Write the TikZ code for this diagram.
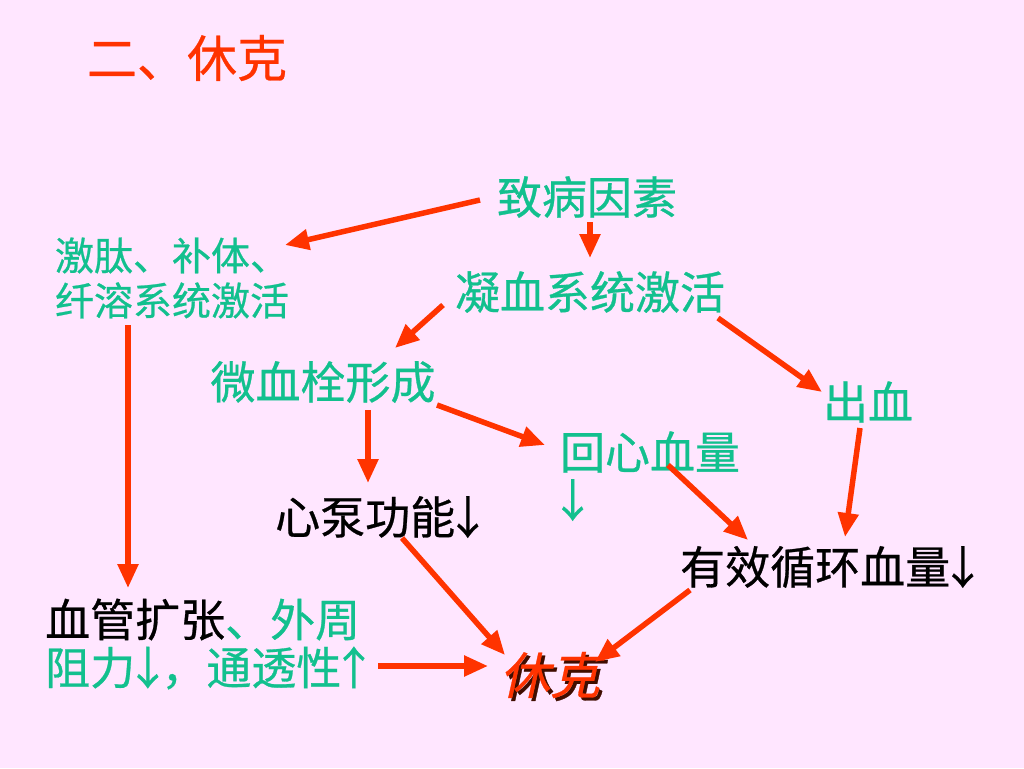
\documentclass[tikz,border=0pt]{standalone}
\usepackage{fontspec}
\usetikzlibrary{arrows.meta}
\newfontfamily\cjk[FakeBold=0.6]{Noto Sans CJK SC}
\newfontfamily\cjkit[FakeSlant=0.22,FakeBold=0.6]{Noto Sans CJK SC}
\newcommand{\dn}{\kern-0.22em↓\kern-0.2em}
\newcommand{\upa}{\kern-0.22em↑\kern-0.2em}
\definecolor{bgpink}{RGB}{255,230,255}
\definecolor{tgreen}{RGB}{18,192,142}
\definecolor{ared}{RGB}{255,51,0}
\tikzset{
  txt/.style={inner sep=0pt, text=tgreen, font=\cjk\fontsize{45}{48}\selectfont},
  blk/.style={txt, text=black},
  arr/.style={draw=ared, line width=5.5pt, -{Triangle[length=24pt,width=20pt]}},
}
\begin{document}
\begin{tikzpicture}[x=1pt,y=-1pt]
\fill[bgpink] (0,0) rectangle (1024,768);
\useasboundingbox (0,0) rectangle (1024,768);
% nodes
\node[txt, text=ared, font=\cjk\fontsize{50}{55}\selectfont] (title) at (187,58) {二、休克};
\node[txt] (zb) at (587,197) {致病因素};
\node[txt, align=left, font=\cjk\fontsize{39}{45}\selectfont] (jt) at (172,278) {激肽、补体、\\纤溶系统激活};
\node[txt] (nx) at (590,292) {凝血系统激活};
\node[txt] (wx) at (323,382) {微血栓形成};
\node[txt] (cx) at (868,402) {出血};
\node[txt] (hx) at (650,452) {回心血量};
\node[txt, anchor=west] (hxa) at (550,500) {↓};
\node[blk, anchor=west] (xb) at (275,517) {心泵功能\dn};
\node[blk, anchor=west] (yx) at (680,567) {有效循环血量\dn};
\node[txt, align=left, anchor=west] (xg) at (45,644) {\textcolor{black}{血管扩张}、外周\\阻力\dn，通透性\upa};
\node[txt, text=black!75!ared, font=\cjkit\fontsize{50}{55}\selectfont] (xks) at (553,678) {休克};
\node[txt, text=ared, font=\cjkit\fontsize{50}{55}\selectfont] (xk) at (550,675) {休克};
% arrows
\draw[arr] ([shift={(-107,3)}]zb.center) -- ([shift={(113,-33)}]jt.center);
\draw[arr] ([shift={(3,25)}]zb.center) -- ([shift={(0,-34)}]nx.center);
\draw[arr] ([shift={(-147,13)}]nx.center) -- ([shift={(72,-34)}]wx.center);
\draw[arr] ([shift={(128,26)}]nx.center) -- ([shift={(-46,-10)}]cx.center);
\draw[arr] ([shift={(45,28)}]wx.center) -- ([shift={(93,-34)}]xb.west);
\draw[arr] ([shift={(114,23)}]wx.center) -- ([shift={(-105,-7)}]hx.center);
\draw[arr] ([shift={(-44,47)}]jt.center) -- ([shift={(83,-56)}]xg.west);
\draw[arr] ([shift={(-8,26)}]cx.center) -- ([shift={(165,-30)}]yx.west);
\draw[arr] ([shift={(18,13)}]hx.center) -- ([shift={(68,-27)}]yx.west);
\draw[arr] ([shift={(127,21)}]xb.west) -- ([shift={(-45,-20)}]xk.center);
\draw[arr] ([shift={(10,23)}]yx.west) -- ([shift={(45,-13)}]xk.center);
\draw[arr] ([shift={(333,22)}]xg.west) -- ([shift={(-62,-9)}]xk.center);
\end{tikzpicture}
\end{document}
